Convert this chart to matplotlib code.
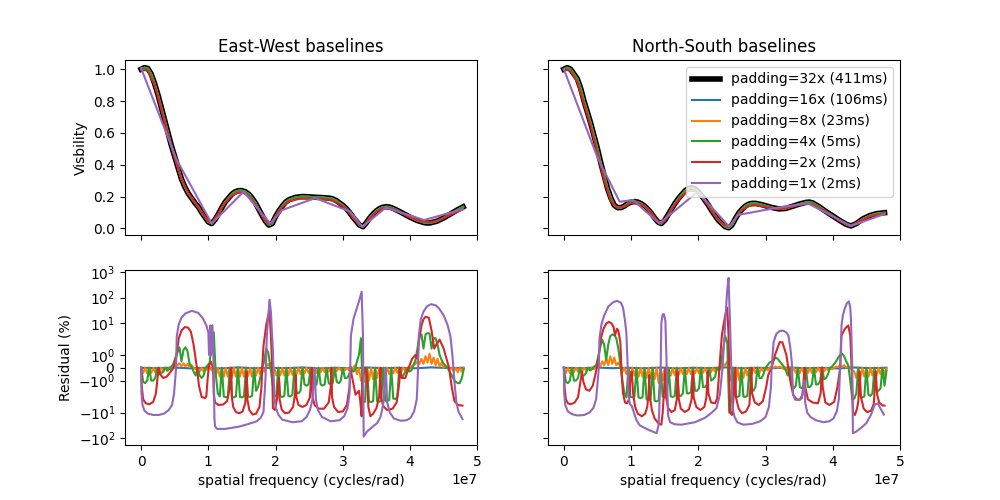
import numpy as np
import matplotlib
matplotlib.use('Agg')
import matplotlib.pyplot as plt

# etiquetas de la leyenda
labels = ['padding=32x (411ms)', 'padding=16x (106ms)', 'padding=8x (23ms)',
          'padding=4x (5ms)', 'padding=2x (2ms)', 'padding=1x (2ms)']

# --- visibilidad (x en unidades de 1e7) ---
vis_ew_ref = [(0, 1.0), (0.05, 1.01), (0.1, 1.005), (0.15, 0.97), (0.2, 0.91), (0.25, 0.84), (0.3, 0.76),
              (0.35, 0.68), (0.4, 0.60), (0.45, 0.52), (0.5, 0.45), (0.55, 0.38), (0.6, 0.31), (0.65, 0.26),
              (0.7, 0.22), (0.75, 0.19), (0.8, 0.16), (0.85, 0.135), (0.9, 0.1), (0.95, 0.07), (1.0, 0.04),
              (1.05, 0.03), (1.1, 0.055), (1.15, 0.09), (1.2, 0.13), (1.25, 0.165), (1.3, 0.19), (1.35, 0.215),
              (1.4, 0.23), (1.45, 0.237), (1.5, 0.237), (1.55, 0.23), (1.6, 0.215), (1.65, 0.19), (1.7, 0.16),
              (1.75, 0.12), (1.8, 0.08), (1.85, 0.045), (1.9, 0.02), (1.95, 0.03), (2.0, 0.075), (2.05, 0.11),
              (2.1, 0.14), (2.15, 0.165), (2.2, 0.18), (2.3, 0.195), (2.4, 0.2), (2.5, 0.198), (2.6, 0.195),
              (2.7, 0.193), (2.8, 0.19), (2.85, 0.185), (2.9, 0.175), (2.95, 0.16), (3.0, 0.145), (3.05, 0.125),
              (3.1, 0.1), (3.15, 0.07), (3.2, 0.045), (3.25, 0.02), (3.3, 0.01), (3.35, 0.035), (3.4, 0.065),
              (3.45, 0.09), (3.5, 0.11), (3.55, 0.125), (3.6, 0.133), (3.65, 0.136), (3.7, 0.133), (3.75, 0.125),
              (3.8, 0.115), (3.9, 0.093), (4.0, 0.07), (4.1, 0.05), (4.2, 0.037), (4.25, 0.033), (4.3, 0.034),
              (4.4, 0.045), (4.5, 0.065), (4.6, 0.09), (4.7, 0.115), (4.79, 0.135)]
vis_ew_2x = [(0, 1.0), (0.1, 0.99), (0.2, 0.9), (0.3, 0.75), (0.4, 0.59), (0.5, 0.44), (0.6, 0.31),
             (0.7, 0.22), (0.8, 0.165), (0.9, 0.1), (1.0, 0.045), (1.05, 0.035), (1.15, 0.095), (1.25, 0.16),
             (1.35, 0.205), (1.45, 0.225), (1.55, 0.22), (1.65, 0.18), (1.75, 0.115), (1.85, 0.045),
             (1.92, 0.025), (2.0, 0.075), (2.1, 0.135), (2.2, 0.17), (2.35, 0.185), (2.5, 0.188),
             (2.65, 0.186), (2.8, 0.18), (2.9, 0.165), (3.0, 0.14), (3.1, 0.095), (3.2, 0.045), (3.3, 0.01),
             (3.4, 0.06), (3.5, 0.105), (3.6, 0.125), (3.7, 0.128), (3.8, 0.11), (3.9, 0.09), (4.0, 0.068),
             (4.15, 0.045), (4.3, 0.038), (4.45, 0.055), (4.6, 0.085), (4.79, 0.12)]
vis_ew_1x = [(0, 1.006), (0.53, 0.43), (1.05, 0.03), (1.525, 0.23), (1.92, 0.03), (2.10, 0.115),
             (2.59, 0.19), (3.11, 0.105), (3.29, 0.01), (3.64, 0.13), (4.21, 0.052), (4.78, 0.12)]

vis_ns_ref = [(0, 1.0), (0.05, 1.01), (0.1, 1.0), (0.15, 0.97), (0.2, 0.94), (0.25, 0.88), (0.3, 0.8),
              (0.35, 0.73), (0.4, 0.66), (0.45, 0.58), (0.5, 0.5), (0.55, 0.41), (0.6, 0.33), (0.65, 0.25),
              (0.7, 0.19), (0.75, 0.145), (0.8, 0.13), (0.85, 0.13), (0.9, 0.14), (0.95, 0.155), (1.0, 0.165),
              (1.05, 0.168), (1.1, 0.165), (1.15, 0.155), (1.2, 0.14), (1.25, 0.12), (1.3, 0.095), (1.35, 0.065),
              (1.4, 0.04), (1.45, 0.03), (1.5, 0.05), (1.55, 0.085), (1.6, 0.12), (1.65, 0.155), (1.7, 0.185),
              (1.75, 0.21), (1.8, 0.235), (1.85, 0.25), (1.9, 0.255), (1.95, 0.248), (2.0, 0.23), (2.05, 0.205),
              (2.1, 0.175), (2.15, 0.145), (2.2, 0.11), (2.25, 0.08), (2.3, 0.05), (2.35, 0.03), (2.4, 0.01),
              (2.45, 0.003), (2.5, 0.02), (2.55, 0.06), (2.6, 0.095), (2.65, 0.12), (2.7, 0.14), (2.75, 0.152),
              (2.8, 0.157), (2.85, 0.157), (2.9, 0.153), (2.95, 0.148), (3.0, 0.142), (3.1, 0.13), (3.2, 0.122),
              (3.3, 0.125), (3.4, 0.138), (3.5, 0.152), (3.6, 0.163), (3.65, 0.165), (3.7, 0.16), (3.8, 0.135),
              (3.9, 0.105), (4.0, 0.078), (4.1, 0.05), (4.2, 0.025), (4.27, 0.015), (4.35, 0.03), (4.45, 0.06),
              (4.55, 0.08), (4.65, 0.092), (4.77, 0.098)]
vis_ns_2x = [(0, 1.0), (0.1, 0.99), (0.2, 0.92), (0.3, 0.78), (0.4, 0.64), (0.5, 0.47), (0.6, 0.3),
             (0.7, 0.17), (0.8, 0.13), (0.9, 0.135), (1.0, 0.16), (1.1, 0.16), (1.2, 0.14), (1.3, 0.1),
             (1.4, 0.045), (1.47, 0.035), (1.55, 0.08), (1.65, 0.15), (1.75, 0.2), (1.85, 0.235),
             (1.95, 0.235), (2.05, 0.2), (2.15, 0.14), (2.25, 0.08), (2.35, 0.03), (2.46, 0.01), (2.55, 0.06),
             (2.65, 0.115), (2.75, 0.14), (2.85, 0.145), (3.0, 0.135), (3.15, 0.122), (3.3, 0.125),
             (3.45, 0.142), (3.6, 0.155), (3.7, 0.15), (3.85, 0.115), (4.0, 0.075), (4.15, 0.035),
             (4.27, 0.018), (4.4, 0.045), (4.55, 0.075), (4.77, 0.095)]
vis_ns_1x = [(0, 1.0), (0.505, 0.44), (0.83, 0.167), (1.03, 0.178), (1.42, 0.03), (1.99, 0.23),
             (2.46, 0.01), (2.59, 0.084), (3.18, 0.13), (3.63, 0.157), (4.27, 0.015), (4.77, 0.09)]

# --- residuos (%) ---
blue_ew = [0, -0.03, 0.02, -0.04, 0, -0.05, 0.03, -0.04, 0, -0.03, 0.02,
           -0.05, 0, -0.04, 0.02, -0.03, 0, -0.04, 0.03, -0.02, 0]
blue_ns = [0, -0.04, 0.02, -0.03, 0, -0.04, 0.02, -0.05, 0, -0.03, 0.03,
           -0.04, 0, -0.03, 0.02, -0.04, 0, -0.05, 0.02, -0.03, 0]

orange_ew = [0, -0.4, 0, -0.45, 0, -0.4, 0, -0.35, 0, -0.3,
             0, -0.3, 0, -0.25, 0, -0.2, 0.05, 0.1, 0.2, 0.35,
             0.1, 0.35, 0.1, 0.3, 0.05, 0.2, 0, -0.1, 0, -0.3,
             0, -0.3, 0, -0.2, 0.1, -0.2, 0, -0.6, 0, -0.7,
             0, -0.7, 0, -0.7, 0, -0.75, 0, -0.7, 0, -0.7,
             0, -0.7, 0, -0.65, 0, -0.7, 0, -0.6, 0, -0.5,
             0, -0.3, 0.1, 0.3, 0, -0.3, 0, -0.6, 0, -0.6,
             0, -0.6, 0, -0.6, 0, -0.55, 0, -0.5, 0, -0.5,
             0, -0.45, 0, -0.4, 0, -0.4, 0, -0.4, 0, -0.35,
             0, -0.35, 0, -0.3, 0, -0.3, 0, -0.25, 0, -0.2,
             0, -0.2, 0, -0.2, 0.1, -0.1, 0.2, -0.5, 0, -1.0,
             0, -1.1, 0, -1.0, 0, -0.9, 0, -0.8, 0, -0.6,
             0, -0.6, 0, -0.5, 0, -0.45, 0, -0.4, 0, -0.3,
             0, -0.2, 0, -0.1, 0.1, 0.2, 0.3, 0.5, 0.3, 0.7,
             0.3, 0.9, 0.4, 1.1, 0.3, 0.8, 0.2, 0.7, 0.1, 0.4,
             0, 0.2, 0, -0.1, 0, -0.3, 0, -0.35, 0, -0.3,
             0]
orange_ns = [0, -0.4, 0, -0.4, 0, -0.35, 0, -0.3, 0, -0.3,
             0, -0.25, 0, -0.2, 0, -0.1, 0.1, 0.3, 0.1, 0.5,
             0.2, 0.7, 0.2, 0.9, 0.3, 0.8, 0.2, 0.4, 0, -0.3,
             0, -0.5, 0, -0.6, 0, -0.6, 0, -0.7, 0, -0.7,
             0, -0.8, 0, -0.8, 0, -0.9, 0, -1.2, 0, -1.0,
             0, -0.7, 0, -0.6, 0, -0.6, 0, -0.55, 0, -0.5,
             0, -0.5, 0, -0.5, 0, -0.45, 0, -0.45, 0, -0.4,
             0, -0.4, 0, -0.35, 0, -0.3, 0, -0.2, 0.1, 0.3,
             0.2, 0.5, -0.5, -1.0, 0, -1.3, 0, -1.0, 0, -0.8,
             0, -0.6, 0, -0.5, 0, -0.4, 0, -0.4, 0, -0.3,
             0, -0.2, 0, 0.1, 0, 0.1, 0, 0.1, 0, -0.1,
             0, -0.2, 0, -0.3, 0, -0.4, 0, -0.4, 0, -0.4,
             0, -0.4, 0, -0.4, 0, -0.35, 0, -0.3, 0, -0.3,
             0, -0.2, 0, -0.1, 0, 0.1, 0.05, 0.2, 0.05, 0.2,
             0, 0.1, 0, -0.2, -0.3, -0.8, 0, -0.8, 0, -0.7,
             0, -0.7, 0, -0.6, 0, -0.6, 0, -0.5, 0, -0.5,
             0]

green_ew = [0, -1.1, -1.2, -1.0, 0, -1.0, -1.0, -0.8, 0, -0.3,
            -0.4, -0.3, 0, -0.2, -0.1, 0.1, 0.3, 0.8, 1.2, 1.6,
            0.5, 1.4, 1.6, 1.3, 0.3, 0.1, -0.3, -0.6, 0, -0.6,
            -0.8, -0.6, 0, 0.2, 0.4, 2.0, 4.3, -0.5, -2.0, -2.3,
            0, -2.3, -2.5, -2.3, 0, -2.4, -2.5, -2.3, 0, -2.4,
            -2.5, -2.3, 0, -2.3, -2.4, -2.2, 0, -1.8, -1.5, -0.8,
            0, 0.5, 1.5, 1.2, 0.2, -1.0, -2.3, -2.2, 0, -2.3,
            -2.4, -2.2, 0, -2.2, -2.3, -2.1, 0, -1.9, -2.0, -1.8,
            0, -1.3, -1.4, -1.3, 0, -1.3, -1.4, -1.3, 0, -1.3,
            -1.4, -1.3, 0, -1.2, -1.3, -1.2, 0, -1.1, -1.2, -1.0,
            0, -0.8, -0.8, -0.6, 0, -0.3, -0.2, 0.5, 1.0, 2.5,
            -3.5, -3.8, 0, -3.7, -3.8, -3.6, 0, -3.6, -3.7, -3.5,
            0, -3.4, -3.5, -3.2, 0, -2.8, -2.9, -2.5, 0, -0.8,
            -0.6, -0.3, 0, -0.3, -0.2, 0.2, 0.6, 1.5, 3.2, 3.5,
            1.5, 3.5, 4.0, 3.8, 1.5, 2.5, 2.5, 1.8, 1.0, 0.6,
            0.3, 0.1, 0, -0.3, -0.6, -0.9, -1.1, -1.2, -1.2, -0.8,
            -0.1]
green_ns = [0, -1.1, -1.2, -1.0, 0, -1.0, -1.0, -0.8, 0, -0.6,
            -0.6, -0.4, 0, -0.2, -0.1, 0.1, 0.2, 0.8, 1.6, 2.2,
            1.8, 0.6, 1.8, 3.0, 3.5, 3.3, 2.5, 1.5, 0.3, -1.0,
            -2.0, -2.5, 0, -2.4, -2.5, -2.3, 0, -2.5, -2.7, -2.5,
            0, -3.0, -3.2, -3.0, 0, -3.4, -3.6, -3.4, 0, -2.4,
            -2.5, -2.3, 0, -2.3, -2.4, -2.2, 0, -2.2, -2.2, -2.0,
            0, -2.0, -2.0, -1.9, 0, -1.8, -1.8, -1.6, 0, -1.5,
            -1.5, -1.3, 0, -1.0, -0.9, -0.7, 0, -0.2, 0.5, 1.5,
            3.0, 2.0, -10, -3, 0, -2.3, -2.4, -2.2, 0, -2.3,
            -2.4, -2.2, 0, -1.7, -1.8, -1.5, 0, -0.8, -0.8, -0.5,
            0, 0.2, 0.4, 0.5, 0.6, 0.8, 0.7, 0.5, 0.3, 0.1,
            -0.2, -0.6, 0, -1.4, -1.6, -1.4, 0, -1.5, -1.6, -1.4,
            0, -1.5, -1.5, -1.3, 0, -1.3, -1.3, -1.1, 0, -0.9,
            -0.8, -0.5, 0, 0.1, 0.3, 0.5, 0.8, 1.0, 1.1, 0.9,
            0.5, 0.2, -1.0, -3.0, -2.8, -2.0, 0, -2.4, -2.5, -2.3,
            0, -2.1, -2.2, -2.0, 0, -1.8, -1.8, -1.6, 0, -1.4,
            -0.2]

red_ew = [(0, 0), (0.01, -1.5), (0.03, -3), (0.07, -4.3), (0.12, -4.7), (0.18, -3.8), (0.22, -2), (0.26, 0),
          (0.28, -0.5), (0.33, -0.8), (0.38, -0.7), (0.44, -0.3), (0.48, 0), (0.52, 0.8), (0.56, 2.5),
          (0.6, 5), (0.65, 6.9), (0.7, 6.5), (0.74, 4.5), (0.78, 1.8), (0.83, 0), (0.86, -1.4), (0.9, -2.4),
          (0.95, -2.7), (0.97, -2.2), (0.99, -0.8), (1.01, 0.2), (1.04, 0.45), (1.07, 0), (1.08, -2.1),
          (1.10, -4), (1.15, -5), (1.22, -4.8), (1.28, -3.5), (1.32, -1.5), (1.34, 0), (1.35, -2.5),
          (1.37, -6), (1.41, -9.5), (1.46, -10.6), (1.51, -9), (1.55, -4), (1.57, -0.3), (1.58, -3),
          (1.61, -8), (1.66, -12), (1.71, -11), (1.76, -6), (1.79, -1.5), (1.80, 0), (1.82, 1.7),
          (1.86, 8), (1.89, 20), (1.91, 28), (1.93, 3.2), (1.95, 0), (1.96, -6.7), (1.99, -7.9),
          (2.02, -3), (2.05, -0.8), (2.06, -3), (2.09, -7.5), (2.14, -10.6), (2.2, -10), (2.26, -6),
          (2.29, -2), (2.30, -0.56), (2.31, -2.5), (2.34, -5), (2.40, -6), (2.46, -5), (2.51, -2.5),
          (2.54, 0), (2.55, -2.5), (2.58, -5), (2.64, -7), (2.72, -7), (2.79, -4), (2.82, -1.5), (2.83, 0),
          (2.84, -2.5), (2.87, -6), (2.93, -9.5), (3.0, -9), (3.06, -5), (3.10, -1.5), (3.11, 0),
          (3.14, -0.8), (3.19, -2.1), (3.24, -1.8), (3.26, -3.7), (3.28, -14), (3.29, -0.8), (3.34, 0),
          (3.36, -0.8), (3.38, -6), (3.41, -14), (3.45, -11), (3.5, -6.7), (3.54, -2.5), (3.56, 0),
          (3.57, -2.5), (3.6, -5.5), (3.66, -7.9), (3.74, -7), (3.8, -4), (3.84, -1.2), (3.85, 0),
          (3.88, -0.8), (3.93, -0.8), (3.98, 0), (4.03, 0.7), (4.08, 1), (4.11, 0.7), (4.13, 2), (4.17, 8),
          (4.2, 14), (4.23, 17.5), (4.28, 16), (4.32, 5), (4.36, 1.5), (4.40, 1.9), (4.44, 2.2), (4.50, 1.5),
          (4.58, 0), (4.62, -1.5), (4.66, -3.5), (4.71, -5), (4.78, -5.3)]
red_ns = [(0, 0), (0.01, -1.5), (0.03, -3), (0.06, -4.3), (0.1, -4.7), (0.16, -4), (0.21, -2.5), (0.25, -1),
          (0.27, -0.3), (0.29, -1.1), (0.33, -1.7), (0.38, -1.8), (0.43, -1.4), (0.47, -0.5), (0.49, 0),
          (0.52, 1), (0.55, 2.5), (0.59, 5.9), (0.63, 9.5), (0.67, 11), (0.71, 9.5), (0.74, 6.9), (0.76, 3.2),
          (0.79, 5.9), (0.81, 5), (0.84, 2), (0.86, -0.5), (0.88, -2), (0.91, -4), (0.94, -4.3), (0.97, -3),
          (0.99, -0.8), (1.01, -0.3), (1.03, -2), (1.06, -6), (1.1, -11), (1.16, -14), (1.21, -11),
          (1.24, -6), (1.26, -2), (1.27, -0.56), (1.28, -2.5), (1.31, -8), (1.35, -17), (1.41, -27),
          (1.45, -30), (1.47, -10), (1.48, -3.7), (1.51, 0), (1.52, -2.5), (1.55, -6.5), (1.6, -9.5),
          (1.65, -8), (1.68, -3), (1.69, -0.3), (1.71, -3), (1.74, -7), (1.8, -9.5), (1.86, -7.5), (1.9, -3),
          (1.92, -0.3), (1.93, -2.5), (1.97, -6), (2.03, -7.9), (2.09, -6), (2.12, -2.5), (2.14, -0.3),
          (2.15, -2), (2.19, -4), (2.25, -4.3), (2.28, -2.8), (2.30, -1.1), (2.32, 0.45), (2.35, 3.2),
          (2.38, 10), (2.40, 20), (2.43, 40), (2.45, 3.2), (2.47, -9.5), (2.50, -12.4), (2.52, -3.7),
          (2.55, 0), (2.56, -2.5), (2.6, -7), (2.65, -10.6), (2.71, -9), (2.76, -5), (2.79, 0), (2.8, -2),
          (2.84, -4), (2.9, -5), (2.96, -3.5), (3.01, -1.5), (3.04, -0.56), (3.09, 0), (3.14, 1), (3.21, 2),
          (3.25, 2), (3.31, 1), (3.36, -0.8), (3.41, -2.1), (3.46, -3), (3.51, -3.1), (3.55, -2.1), (3.58, 0),
          (3.59, -1.5), (3.63, -3), (3.7, -4), (3.78, -4.3), (3.82, -2), (3.84, 0), (3.85, -1.5), (3.89, -4),
          (3.95, -5), (4.02, -3.8), (4.07, -1.5), (4.11, 0), (4.13, 3.2), (4.18, 5.9), (4.23, 8), (4.26, 3.2),
          (4.28, 0), (4.30, -9.5), (4.33, -12.4), (4.36, -7), (4.38, -3.7), (4.40, -0.3), (4.42, -2.5),
          (4.46, -7), (4.51, -9.5), (4.57, -8.5), (4.61, -4.5), (4.64, -0.3), (4.66, -2.1), (4.69, -4),
          (4.74, -5.2), (4.77, -5.3)]

purple_ew = [(0, 0), (0.005, -2), (0.02, -5), (0.05, -8.5), (0.1, -11), (0.18, -12.4), (0.26, -12.4),
             (0.34, -11), (0.41, -8), (0.46, -5), (0.49, -2), (0.52, 0), (0.53, 3), (0.56, 9), (0.6, 16),
             (0.66, 24), (0.755, 30), (0.85, 25), (0.92, 15), (0.97, 8), (1.0, 4.3), (1.01, 1), (1.03, 8),
             (1.04, 1), (1.06, 8), (1.08, 0), (1.09, -16.7), (1.1, -35), (1.13, -44), (1.25, -44), (1.45, -36),
             (1.6, -28), (1.72, -22), (1.78, -16), (1.82, -9.5), (1.85, -0.8), (1.87, 3.2), (1.91, 83),
             (1.93, 28), (1.96, 1.3), (1.98, -2.1), (2.0, -6), (2.04, -12), (2.10, -19), (2.25, -24),
             (2.39, -22), (2.46, -15), (2.51, -8), (2.55, -3), (2.58, 0), (2.6, -3), (2.63, -8), (2.69, -15),
             (2.82, -22), (2.95, -20), (3.02, -14), (3.07, -6.7), (3.1, -2), (3.11, 0), (3.12, 3.2),
             (3.16, 15), (3.24, 71), (3.28, 170), (3.30, 3.2), (3.31, -88), (3.36, -56), (3.45, -35),
             (3.51, -26), (3.56, -15), (3.6, -5), (3.64, 0), (3.66, -4), (3.7, -10), (3.76, -17), (3.86, -21),
             (3.95, -20), (4.01, -16), (4.06, -9), (4.1, -3), (4.12, 0), (4.13, 3.2), (4.16, 14), (4.2, 28),
             (4.25, 45), (4.31, 55), (4.38, 50), (4.43, 38), (4.5, 20), (4.56, 8), (4.6, 3), (4.63, 1),
             (4.66, -1.1), (4.69, -4), (4.72, -9), (4.78, -18)]
purple_ns = [(0, 0), (0.005, -2), (0.02, -5), (0.06, -9), (0.12, -11.5), (0.2, -13), (0.3, -12.5),
             (0.38, -10), (0.44, -6.5), (0.48, -3), (0.52, 0), (0.53, 2.5), (0.56, 9), (0.6, 20), (0.66, 44),
             (0.73, 65), (0.79, 75), (0.85, 62), (0.88, 40), (0.91, 12), (0.93, 4), (0.95, 0), (0.96, -2.1),
             (0.98, -4.5), (1.01, -5.5), (1.04, -9.5), (1.08, -20), (1.13, -32), (1.26, -48), (1.38, -65),
             (1.41, -30), (1.42, -6.7), (1.44, 0), (1.45, 10), (1.47, 22), (1.49, 22), (1.51, 12), (1.53, 0),
             (1.55, -12.4), (1.58, -24), (1.65, -29), (1.75, -30), (1.95, -24), (2.1, -16), (2.2, -10),
             (2.27, -6.7), (2.32, -2.1), (2.36, 0), (2.39, 3.2), (2.41, 30), (2.43, 200), (2.45, 600),
             (2.46, 80), (2.47, 15), (2.49, 0), (2.51, -6.7), (2.54, -15), (2.58, -24), (2.67, -30),
             (2.8, -28), (2.92, -22), (3.0, -15), (3.05, -6), (3.08, -1.5), (3.09, 0), (3.12, 2), (3.16, 3.7),
             (3.21, 4.8), (3.26, 5), (3.31, 4.2), (3.34, 3.2), (3.37, 1.5), (3.39, 0.45), (3.41, -2.1),
             (3.44, -3.1), (3.5, -3.2), (3.54, -2.7), (3.56, -1.6), (3.58, -1), (3.59, -4), (3.62, -10),
             (3.67, -15), (3.75, -20), (3.86, -24), (3.95, -22), (4.01, -17), (4.06, -9), (4.09, -3),
             (4.11, 0), (4.13, 8), (4.15, 20), (4.18, 38), (4.21, 60), (4.24, 71), (4.26, 40), (4.27, 15),
             (4.29, 0), (4.30, -65), (4.35, -56), (4.42, -40), (4.50, -26), (4.57, -12), (4.62, -5),
             (4.67, -4.3), (4.71, -7), (4.76, -12)]


def xy(pares):
    a = np.array(pares, dtype=float)
    return a[:, 0] * 1e7, a[:, 1]


fig, axes = plt.subplots(2, 2, figsize=(10, 5), sharex=True, sharey='row')

# Panel superior: visibilidad
for ax, ref, v2, v1, titulo in [(axes[0, 0], vis_ew_ref, vis_ew_2x, vis_ew_1x, 'East-West baselines'),
                                  (axes[0, 1], vis_ns_ref, vis_ns_2x, vis_ns_1x, 'North-South baselines')]:
    x, y = xy(ref)
    ax.plot(x, y, 'k-', lw=4, label=labels[0])
    ax.plot(x, y, color='C0', label=labels[1])
    ax.plot(x, y, color='C1', label=labels[2])
    ax.plot(x, y, color='C2', label=labels[3])
    x2, y2 = xy(v2)
    ax.plot(x2, y2, color='C3', label=labels[4])
    x1, y1 = xy(v1)
    ax.plot(x1, y1, color='C4', label=labels[5])
    ax.set_title(titulo)

axes[0, 0].set_ylabel('Visbility')
axes[0, 1].legend(loc='upper right')
axes[0, 0].set_ylim(-0.042, 1.058)

# Panel inferior: residuos
for ax, bl, orr, gr, rd, pu in [(axes[1, 0], blue_ew, orange_ew, green_ew, red_ew, purple_ew),
                                (axes[1, 1], blue_ns, orange_ns, green_ns, red_ns, purple_ns)]:
    ax.plot(np.linspace(0, 4.8e7, len(bl)), bl, color='C0')
    ax.plot(np.linspace(0, 4.8e7, len(orr)), orr, color='C1')
    ax.plot(np.linspace(0, 4.8e7, len(gr)), gr, color='C2')
    x, y = xy(rd)
    ax.plot(x, y, color='C3')
    x, y = xy(pu)
    ax.plot(x, y, color='C4')
    ax.set_yscale('symlog', linthresh=2.2)
    ax.set_xlabel('spatial frequency (cycles/rad)')

axes[1, 0].set_ylabel('Residual (%)')
axes[1, 0].set_ylim(-190, 1230)
axes[1, 0].set_xlim(-0.24e7, 5.0e7)

fig.savefig('out.png', dpi=100)
